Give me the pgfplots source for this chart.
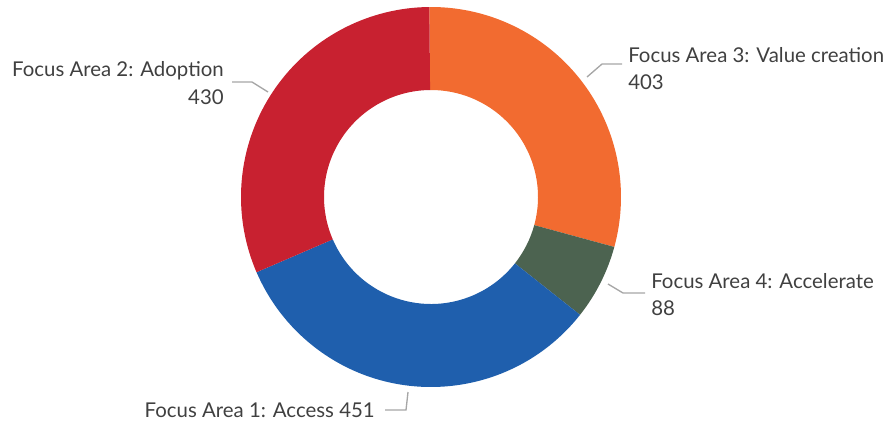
\documentclass[border=0pt]{standalone}
\usepackage{pgfplots}
\pgfplotsset{compat=1.18}
\usepackage{fontspec}
\setmainfont{Lato}

\definecolor{fa1}{HTML}{1F5FAD}
\definecolor{fa2}{HTML}{C82130}
\definecolor{fa3}{HTML}{F26B30}
\definecolor{fa4}{HTML}{4C6350}
\definecolor{txt}{HTML}{404040}
\definecolor{lead}{HTML}{A6A6A6}

% slice values, clockwise from the top
\def\slices{403/fa3,88/fa4,451/fa1,430/fa2}
\pgfmathsetmacro\total{403+88+451+430}

\begin{document}
\begin{tikzpicture}
\begin{axis}[
    hide axis,
    scale only axis,
    width=666pt, height=318.75pt,
    xmin=0, xmax=888,
    ymin=0, ymax=425,
    y dir=reverse,
    clip=false,
]
\path (rel axis cs:0,0) rectangle (rel axis cs:1,1);
\coordinate (c) at (axis cs:431,197);

\begin{scope}[font=\fontsize{15.3}{18}\selectfont, text=txt]
\node[anchor=base east, inner sep=0] at (axis cs:224,76) {Focus Area 2: Adoption};
\node[anchor=base east, inner sep=0] at (axis cs:224,104) {430};
\node[anchor=base west, inner sep=0] at (axis cs:628,62) {Focus Area 3: Value creation};
\node[anchor=base west, inner sep=0] at (axis cs:628,89) {403};
\node[anchor=base west, inner sep=0] at (axis cs:651,288) {Focus Area 4: Accelerate};
\node[anchor=base west, inner sep=0] at (axis cs:651,315) {88};
\node[anchor=base east, inner sep=0] at (axis cs:375,417) {Focus Area 1: Access 451};
\end{scope}

\begin{scope}[lead, line width=1pt]
\draw (axis cs:232,82) -- (axis cs:252,82) -- (axis cs:268,92);
\draw (axis cs:587,77) -- (axis cs:602,64) -- (axis cs:622,64);
\draw (axis cs:608,284) -- (axis cs:623,293) -- (axis cs:645,293);
\draw (axis cs:385,410) -- (axis cs:406,410) -- (axis cs:408,392);
\end{scope}
\end{axis}

% donut ring, angles from the values
\def\Ro{142.5pt}
\def\Ri{80.25pt}
\gdef\cum{0}
\foreach \v/\col in \slices {
  \pgfmathsetmacro\aA{90.5-360*(\cum/\total)}
  \pgfmathsetmacro\cumnew{\cum+\v}
  \pgfmathsetmacro\aB{90.5-360*(\cumnew/\total)}
  \fill[\col, shift={(c)}] (\aA:\Ro) arc[start angle=\aA, end angle=\aB, radius=\Ro]
    -- (\aB:\Ri) arc[start angle=\aB, end angle=\aA, radius=\Ri] -- cycle;
  \xdef\cum{\cumnew}
}
\end{tikzpicture}
\end{document}
